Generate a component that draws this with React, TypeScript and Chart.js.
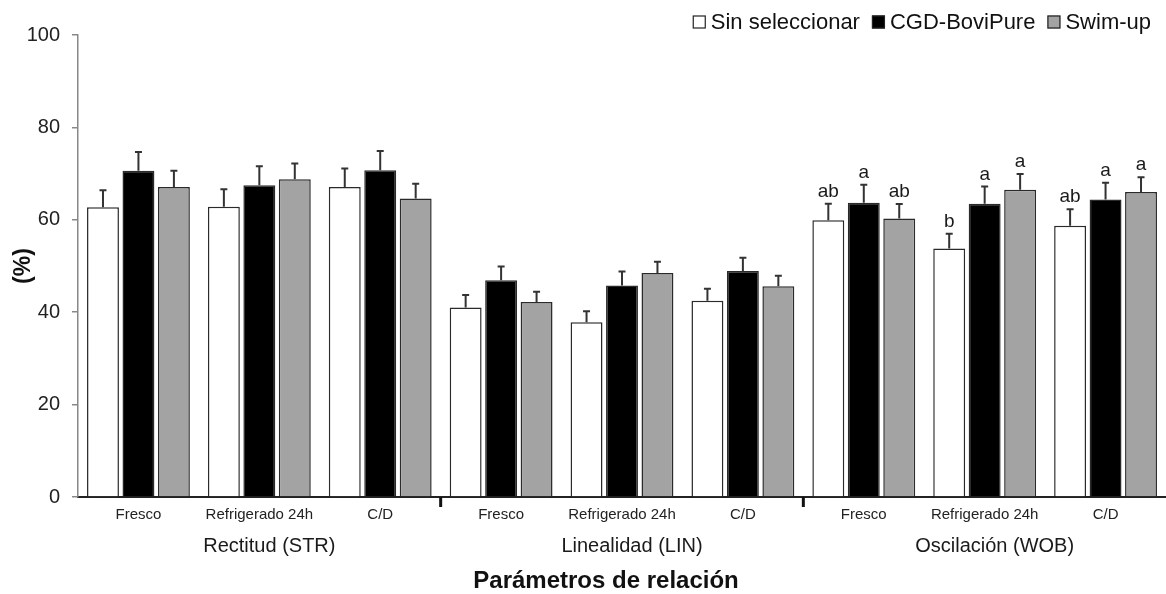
import React, { useEffect, useRef } from 'react';
import { Chart, registerables } from 'chart.js';

Chart.register(...registerables);

const categories = ['Fresco', 'Refrigerado 24h', 'C/D', 'Fresco', 'Refrigerado 24h', 'C/D', 'Fresco', 'Refrigerado 24h', 'C/D'];
const groupLabels = ['Rectitud (STR)', 'Linealidad (LIN)', 'Oscilación (WOB)'];
const seriesNames = ['Sin seleccionar', 'CGD-BoviPure', 'Swim-up'];

const sinSeleccionar = [62.7, 62.8, 67.1, 41.0, 37.8, 42.5, 59.9, 53.8, 58.7];
const sinSeleccionarErr = [3.7, 3.8, 4.0, 2.7, 2.4, 2.6, 3.6, 3.2, 3.6];
const sinSeleccionarLetters = ['', '', '', '', '', '', 'ab', 'b', 'ab'];

const cgdBoviPure = [70.6, 67.5, 70.7, 46.9, 45.8, 48.9, 63.7, 63.5, 64.4];
const cgdBoviPureErr = [4.1, 4.1, 4.2, 3.0, 3.0, 2.9, 3.9, 3.7, 3.6];
const cgdBoviPureLetters = ['', '', '', '', '', '', 'a', 'a', 'a'];

const swimUp = [67.1, 68.8, 64.6, 42.2, 48.5, 45.6, 60.3, 66.5, 66.0];
const swimUpErr = [3.5, 3.4, 3.2, 2.2, 2.4, 2.3, 3.1, 3.4, 3.2];
const swimUpLetters = ['', '', '', '', '', '', 'ab', 'a', 'a'];

const yMin = 0;
const yMax = 100;
const yStep = 20;

const xTitle = 'Parámetros de relación';
const yTitle = '(%)';

const FONT = '"Liberation Sans", Arial, Helvetica, sans-serif';
const fills = ['#ffffff', '#000000', '#a3a3a3'];

export default function App() {
  const ref = useRef<HTMLCanvasElement | null>(null);

  useEffect(() => {
    document.body.style.margin = '0';
    const canvas = ref.current;
    if (!canvas) return;

    const values = [sinSeleccionar, cgdBoviPure, swimUp];
    const errors = [sinSeleccionarErr, cgdBoviPureErr, swimUpErr];
    const letters = [sinSeleccionarLetters, cgdBoviPureLetters, swimUpLetters];

    const overlay = {
      id: 'overlay',
      afterDatasetsDraw(chart: any) {
        const ctx = chart.ctx as CanvasRenderingContext2D;
        const xs = chart.scales.x;
        const ys = chart.scales.y;
        const area = chart.chartArea;
        ctx.save();
        // error bars + significance letters
        values.forEach((vals, di) => {
          const meta = chart.getDatasetMeta(di);
          meta.data.forEach((bar: any, j: number) => {
            const topPx = ys.getPixelForValue(vals[j] + errors[di][j]);
            const barTop = ys.getPixelForValue(vals[j]);
            ctx.strokeStyle = '#333';
            ctx.lineWidth = 2;
            ctx.beginPath();
            ctx.moveTo(bar.x, barTop);
            ctx.lineTo(bar.x, topPx);
            ctx.moveTo(bar.x - 3.5, topPx);
            ctx.lineTo(bar.x + 3.5, topPx);
            ctx.stroke();
            const l = letters[di][j];
            if (l) {
              ctx.fillStyle = '#1a1a1a';
              ctx.font = `19px ${FONT}`;
              ctx.textAlign = 'center';
              ctx.textBaseline = 'alphabetic';
              ctx.fillText(l, bar.x, topPx - 7);
            }
          });
        });
        // group boundary ticks
        ctx.strokeStyle = '#111';
        ctx.lineWidth = 3;
        [3, 6].forEach((k) => {
          const px = (xs.getPixelForValue(k - 1) + xs.getPixelForValue(k)) / 2;
          ctx.beginPath();
          ctx.moveTo(px, area.bottom);
          ctx.lineTo(px, area.bottom + 10);
          ctx.stroke();
        });
        // group labels
        ctx.fillStyle = '#1a1a1a';
        ctx.font = `20px ${FONT}`;
        ctx.textAlign = 'center';
        ctx.textBaseline = 'middle';
        groupLabels.forEach((g, gi) => {
          const px = xs.getPixelForValue(gi * 3 + 1) + 10;
          ctx.fillText(g, px, 546);
        });
        // axis title
        ctx.fillStyle = '#111';
        ctx.font = `bold 24px ${FONT}`;
        ctx.fillText(xTitle, (area.left + area.right) / 2 - 16, 581);
        // legend (top right)
        ctx.font = `22px ${FONT}`;
        ctx.textBaseline = 'middle';
        ctx.textAlign = 'left';
        const box = 13;
        const gapBoxText = 5;
        const gapItems = 12;
        const widths = seriesNames.map((s) => ctx.measureText(s).width);
        const total = widths.reduce((a, w) => a + box + gapBoxText + w, 0) + gapItems * (seriesNames.length - 1);
        let lx = 1151 - total;
        const ly = 22;
        seriesNames.forEach((s, i) => {
          ctx.fillStyle = fills[i];
          ctx.fillRect(lx, ly - box / 2, box, box);
          ctx.strokeStyle = '#222';
          ctx.lineWidth = 1.2;
          ctx.strokeRect(lx + 0.5, ly - box / 2 + 0.5, box - 1, box - 1);
          ctx.fillStyle = '#111';
          ctx.fillText(s, lx + box + gapBoxText, ly + 1);
          lx += box + gapBoxText + widths[i] + gapItems;
        });
        ctx.restore();
      },
    };

    const chart = new Chart(canvas, {
      type: 'bar',
      data: {
        labels: categories,
        datasets: seriesNames.map((name, i) => ({
          label: name,
          data: values[i],
          backgroundColor: fills[i],
          borderColor: '#2a2a2a',
          borderWidth: 1.5,
          borderSkipped: 'bottom',
          categoryPercentage: 0.88,
          barPercentage: 0.9,
        })),
      },
      options: {
        responsive: false,
        animation: false,
        devicePixelRatio: 1,
        layout: { padding: { top: 35, left: 0, right: 0, bottom: 0 } },
        plugins: {
          legend: { display: false },
          tooltip: { enabled: false },
        },
        scales: {
          x: {
            grid: { display: false, drawTicks: false },
            border: { display: true, color: '#222', width: 2 },
            ticks: {
              color: '#222',
              font: { family: FONT, size: 15 },
              padding: 9,
              maxRotation: 0,
              autoSkip: false,
            },
            title: { display: false },
            afterFit: (s: any) => {
              s.height = 97;
            },
          },
          y: {
            min: yMin,
            max: yMax,
            ticks: {
              stepSize: yStep,
              color: '#222',
              font: { family: FONT, size: 20 },
              padding: 12,
            },
            grid: { drawOnChartArea: false, drawTicks: true, tickLength: 6, color: '#888', lineWidth: 1.5 },
            border: { display: true, color: '#888', width: 1.5 },
            title: {
              display: true,
              text: yTitle,
              color: '#111',
              font: { family: FONT, size: 23, weight: 'bold', lineHeight: 1.2 },
              padding: { top: 10, bottom: 0 },
            },
            afterFit: (s: any) => {
              s.width = 78;
            },
          },
        },
      },
      plugins: [overlay],
    });

    return () => {
      chart.destroy();
    };
  }, []);

  return <canvas ref={ref} width={1166} height={594} style={{ display: 'block' }} />;
}
